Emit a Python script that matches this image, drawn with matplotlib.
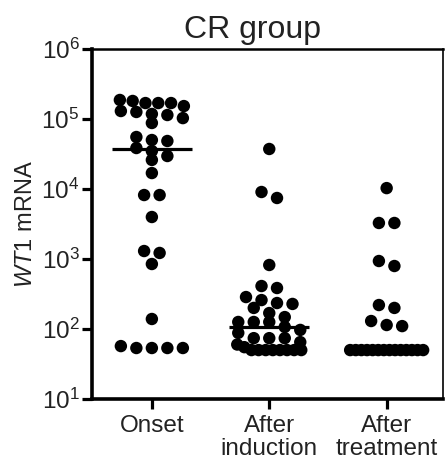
import numpy as np
import matplotlib
matplotlib.use("Agg")
import matplotlib.pyplot as plt
from matplotlib.ticker import LogLocator, NullLocator

plt.rcParams['font.family'] = ['Liberation Sans', 'DejaVu Sans']
plt.rcParams['mathtext.fontset'] = 'custom'
plt.rcParams['mathtext.rm'] = 'Liberation Sans'
plt.rcParams['mathtext.it'] = 'Liberation Sans:italic'

# ---- data ----
categories = ["Onset", "After\ninduction", "After\ntreatment"]
onset = [187000, 181000, 169000, 169000, 169000, 153000, 130000, 126000, 118000,
         114000, 103000, 87700, 55300, 50100, 48500, 38500, 34900, 29600, 26000,
         16900, 8200, 8200, 3980, 1300, 1220, 848, 139, 57, 53.5, 53.5, 53.5, 53.5]
after_induction = [37300, 9060, 7440, 821, 411, 385, 286, 259, 235, 228, 200, 169,
                   148, 126, 126, 126, 107, 97, 88, 74, 74, 74, 65, 60, 55,
                   50, 50, 50, 50, 50, 50, 50, 50]
after_treatment = [10300, 3270, 3270, 936, 794, 220, 200, 130, 114, 110,
                   50, 50, 50, 50, 50, 50, 50, 50, 50, 50, 50, 50, 50, 50]
series = [onset, after_induction, after_treatment]
title = "CR group"
ylabel = r"$\mathit{WT1}$ mRNA"

W, H = 445, 462
fig = plt.figure(figsize=(W / 100, H / 100), dpi=100)
ax = fig.add_axes([92 / W, 1 - 399 / H, 351 / W, 350 / H])
ax.set_yscale('log')
ax.set_ylim(10, 1e6)
ax.set_xlim(-0.51, 2.48)

ink = '#222222'


def swarm(vals, xc, row_px=10.0, step_px=15.5, max_w=64.0, max_w_tie=73.0):
    vals = np.asarray(vals, float)
    pts = ax.transData.transform(np.column_stack([np.full(len(vals), xc), vals]))
    ypx = pts[:, 1]
    order = np.argsort(-ypx, kind='stable')
    rows = []
    for i in order:
        if rows and ypx[rows[-1][0]] - ypx[i] <= row_px:
            rows[-1].append(i)
        else:
            rows.append([i])
    xpx = pts[:, 0].copy()
    for r in rows:
        n = len(r)
        if n == 1:
            continue
        ties = np.ptp(ypx[r]) < 0.5
        s = min(step_px, (max_w_tie if ties else max_w) / (n - 1))
        for k, i in enumerate(r):
            xpx[i] = pts[i, 0] + (k - (n - 1) / 2) * s
    back = ax.transData.inverted().transform(np.column_stack([xpx, ypx]))
    return back[:, 0], vals


for xc, vals in enumerate(series):
    xs, ys = swarm(vals, xc)
    ax.scatter(xs, ys, s=80, color='black', edgecolors='none', zorder=3)
    ax.hlines(np.median(vals), xc - 0.34, xc + 0.34, colors='black', lw=2.3, zorder=4)

ax.yaxis.set_major_locator(LogLocator(base=10, numticks=10))
ax.yaxis.set_minor_locator(NullLocator())
ax.set_xticks(range(len(categories)))
ax.set_xticklabels(categories, linespacing=1.05)

for side, lw in [('left', 2.6), ('bottom', 2.6), ('top', 1.8), ('right', 1.2)]:
    ax.spines[side].set_linewidth(lw)
    ax.spines[side].set_color('black')

ax.tick_params(axis='y', which='major', length=7.5, width=2.3, direction='out',
               pad=1.5, labelsize=17.5, labelcolor=ink)
ax.tick_params(axis='x', which='major', length=7.5, width=2.3, direction='out',
               pad=4, labelsize=17.5, labelcolor=ink)

ax.set_ylabel(ylabel, fontsize=17, color=ink, labelpad=3)
ax.set_title(title, fontsize=23, color=ink, x=(253 - 92) / 351, pad=8)

fig.savefig("out.png", dpi=100)
